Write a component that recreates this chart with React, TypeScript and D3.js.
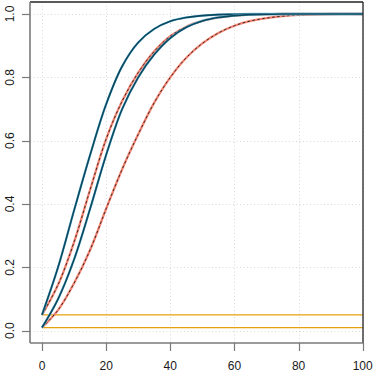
import React, { useRef, useEffect } from 'react'
import * as d3 from 'd3'

const X_VALUES = [0, 5, 10, 15, 20, 25, 30, 35, 40, 45, 50, 55, 60, 65, 70, 75, 80, 90, 100]

// teal curves
const TEAL_05 = [0.05, 0.2, 0.38, 0.555, 0.715, 0.835, 0.91, 0.953, 0.977, 0.989, 0.995, 0.998, 0.999, 1, 1, 1, 1, 1, 1]
const TEAL_01 = [0.01, 0.1, 0.225, 0.385, 0.555, 0.7, 0.8, 0.872, 0.924, 0.958, 0.978, 0.989, 0.995, 0.998, 0.999, 1, 1, 1, 1]

// red dashed curves
const RED_05 = [0.05, 0.145, 0.28, 0.445, 0.605, 0.725, 0.815, 0.882, 0.93, 0.96, 0.978, 0.989, 0.995, 0.998, 0.999, 1, 1, 1, 1]
const RED_01 = [0.01, 0.065, 0.15, 0.255, 0.385, 0.51, 0.62, 0.72, 0.8, 0.862, 0.907, 0.94, 0.963, 0.978, 0.987, 0.993, 0.997, 1, 1]

// reference levels
const LEVELS = [0.05, 0.01]

const X_TICKS = [0, 20, 40, 60, 80, 100]
const Y_TICKS = [0, 0.2, 0.4, 0.6, 0.8, 1.0]

const W = 374
const H = 374

export default function App() {
  const svgRef = useRef(null)

  useEffect(() => {
    if (!svgRef.current) return
    const svg = d3.select(svgRef.current)
    svg.selectAll('*').remove()

    const box = { left: 30, right: 363, top: 2, bottom: 343 }
    const x = d3.scaleLinear().domain([0, 100]).range([42, 362.7])
    const y = d3.scaleLinear().domain([0, 1]).range([330.7, 14])
    const snap = v => Math.round(v) + 0.5

    // grid
    const grid = svg.append('g').attr('stroke', '#d9d9d9').attr('stroke-width', 1).attr('stroke-dasharray', '1 2.5')
    grid.selectAll('line.gx').data(X_TICKS).enter().append('line')
      .attr('x1', d => snap(x(d))).attr('x2', d => snap(x(d)))
      .attr('y1', box.top).attr('y2', box.bottom)
    grid.selectAll('line.gy').data(Y_TICKS).enter().append('line')
      .attr('x1', box.left).attr('x2', box.right)
      .attr('y1', d => snap(y(d))).attr('y2', d => snap(y(d)))

    // reference levels
    svg.selectAll('line.level').data(LEVELS).enter().append('line')
      .attr('x1', x(0)).attr('x2', x(100))
      .attr('y1', d => y(d)).attr('y2', d => y(d))
      .attr('stroke', '#e6a10f').attr('stroke-width', 1.3)

    const line = d3.line()
      .x((d, i) => x(X_VALUES[i]))
      .y(d => y(d))
      .curve(d3.curveCatmullRom.alpha(0.5))

    // red dashed
    ;[RED_05, RED_01].forEach(series => {
      svg.append('path').attr('d', line(series)).attr('fill', 'none')
        .attr('stroke', '#f4826f').attr('stroke-width', 2.3)
      svg.append('path').attr('d', line(series)).attr('fill', 'none')
        .attr('stroke', '#222').attr('stroke-width', 0.9).attr('stroke-dasharray', '2.5 2.5')
    })

    // teal solid
    ;[TEAL_05, TEAL_01].forEach(series => {
      svg.append('path').attr('d', line(series)).attr('fill', 'none')
        .attr('stroke', '#7cc3da').attr('stroke-width', 2.3)
      svg.append('path').attr('d', line(series)).attr('fill', 'none')
        .attr('stroke', '#0a4862').attr('stroke-width', 1.6)
    })

    // frame: top/right black, left/bottom gray axes
    svg.append('line').attr('x1', box.left).attr('x2', box.right).attr('y1', box.top).attr('y2', box.top)
      .attr('stroke', '#222').attr('stroke-width', 1.3)
    svg.append('line').attr('x1', box.right).attr('x2', box.right).attr('y1', box.top).attr('y2', box.bottom)
      .attr('stroke', '#222').attr('stroke-width', 1.3)

    const axisColor = '#7a7a7a'
    svg.append('line').attr('x1', box.left).attr('x2', box.left).attr('y1', box.top).attr('y2', box.bottom)
      .attr('stroke', axisColor).attr('stroke-width', 1.6)
    svg.append('line').attr('x1', box.left).attr('x2', box.right).attr('y1', box.bottom).attr('y2', box.bottom)
      .attr('stroke', axisColor).attr('stroke-width', 1.6)

    // x ticks
    svg.selectAll('line.xt').data(X_TICKS).enter().append('line')
      .attr('x1', d => snap(x(d))).attr('x2', d => snap(x(d)))
      .attr('y1', box.bottom).attr('y2', box.bottom + 8)
      .attr('stroke', axisColor).attr('stroke-width', 1.2)
    svg.selectAll('text.xt').data(X_TICKS).enter().append('text')
      .attr('x', d => x(d)).attr('y', 370)
      .attr('text-anchor', 'middle')
      .style('font-family', '"Liberation Sans", Arial, sans-serif')
      .style('font-size', '12px')
      .attr('fill', '#1a1a1a')
      .text(d => String(d))

    // y ticks
    svg.selectAll('line.yt').data(Y_TICKS).enter().append('line')
      .attr('x1', box.left - 8).attr('x2', box.left)
      .attr('y1', d => snap(y(d))).attr('y2', d => snap(y(d)))
      .attr('stroke', axisColor).attr('stroke-width', 1.2)
    svg.selectAll('text.yt').data(Y_TICKS).enter().append('text')
      .attr('transform', d => `translate(13.5,${y(d)}) rotate(-90)`)
      .attr('text-anchor', 'middle')
      .style('font-family', '"Liberation Sans", Arial, sans-serif')
      .style('font-size', '12px')
      .attr('fill', '#1a1a1a')
      .text(d => d.toFixed(1))
  }, [])

  return (
    <svg ref={svgRef} width={W} height={H}
      style={{ position: 'fixed', left: 0, top: 0, background: '#fff' }} />
  )
}
